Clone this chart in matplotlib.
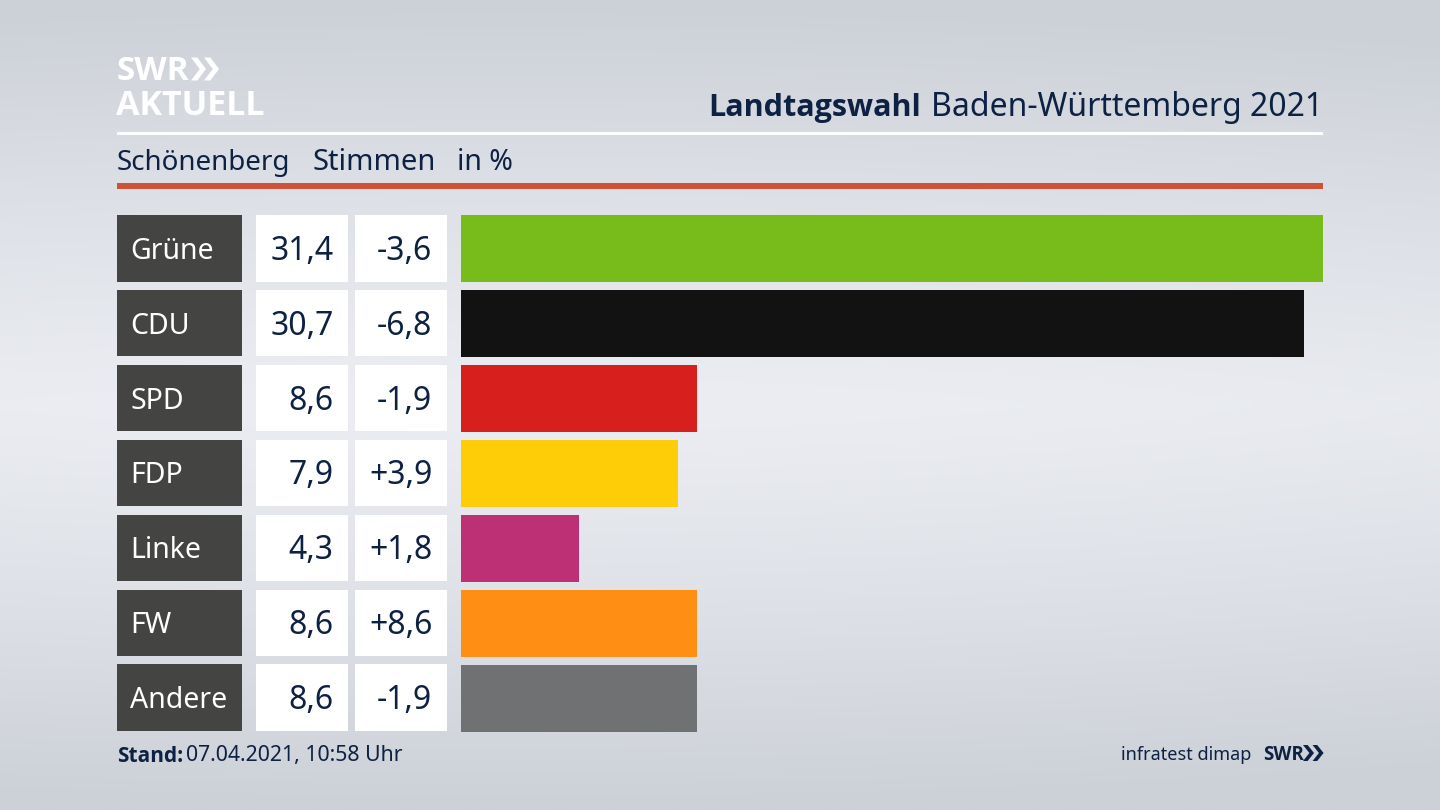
import numpy as np
from matplotlib import pyplot as plt
from matplotlib.patches import Rectangle, Polygon

plt.rcParams['font.family'] = ['Noto Sans', 'DejaVu Sans']
BOLD = ['Open Sans', 'DejaVu Sans']

parties = ['Grüne', 'CDU', 'SPD', 'FDP', 'Linke', 'FW', 'Andere']
shares = [31.4, 30.7, 8.6, 7.9, 4.3, 8.6, 8.6]
share_labels = ['31,4', '30,7', '8,6', '7,9', '4,3', '8,6', '8,6']
diff_labels = ['-3,6', '-6,8', '-1,9', '+3,9', '+1,8', '+8,6', '-1,9']
colors = ['#78bc1b', '#121212', '#d71f1d', '#ffcc08', '#bd3075', '#ff8e14', '#707172']

NAVY = '#0d2143'
W, H = 1440, 810

fig = plt.figure(figsize=(14.4, 8.1), dpi=100)

# page in pixel coordinates
page = fig.add_axes([0, 0, 1, 1])
page.set_xlim(0, W)
page.set_ylim(H, 0)
page.axis('off')

# background: light band in the middle, darker at top, bottom and right
yy, xx = np.mgrid[0:1:200j, 0:1:356j]
light = np.clip(1 - (np.abs(yy - 0.5) / 0.5) ** 1.25 - 0.25 * np.abs(xx - 0.35) ** 2, 0, 1)
bg = np.zeros(yy.shape + (3,))
for i, (lo, hi) in enumerate([(204, 235), (208, 237), (215, 242)]):
    bg[:, :, i] = (lo + (hi - lo) * light) / 255
page.imshow(bg, extent=[0, W, H, 0], aspect='auto', interpolation='bilinear', zorder=0)
page.set_xlim(0, W)
page.set_ylim(H, 0)

# logo
page.text(117, 72, 'SWR', color='white', fontsize=24, family=BOLD, fontweight='bold', va='center', ha='left')
page.text(116, 106, 'AKTUELL', color='white', fontsize=24.5, family=BOLD, fontweight='bold', va='center', ha='left')


def chevrons(x, y, w, h, color):
    # two arrow heads side by side, w is the width of one of them
    for dx in (0, w * 0.87):
        page.add_patch(Polygon([(x + dx, y - h), (x + dx + w * 0.42, y - h), (x + dx + w, y),
                                (x + dx + w * 0.42, y + h), (x + dx, y + h), (x + dx + w * 0.58, y)],
                               closed=True, fc=color, ec='none', zorder=3))


chevrons(191, 69, 15, 11.5, 'white')

# header
page.text(1323, 108, 'Baden-Württemberg 2021', color=NAVY, fontsize=23, ha='right', va='center')
page.text(921, 108, 'Landtagswahl', color=NAVY, fontsize=22, family=BOLD, fontweight='bold', ha='right', va='center')
page.add_patch(Rectangle((117, 132), 1206, 3, fc='white', ec='none', zorder=2))
page.text(117, 163, 'Schönenberg', color=NAVY, fontsize=20, va='center')
page.text(312, 163, 'Stimmen', color=NAVY, fontsize=21, va='center')
page.text(457, 163, 'in %', color=NAVY, fontsize=20.5, va='center')
page.add_patch(Rectangle((117, 183), 1206, 6, fc='#cf5138', ec='none', zorder=2))

# table cells
row_top = 215
row_step = 74.9
row_h = 66.5
for i in range(len(parties)):
    top = row_top + i * row_step
    mid = top + row_h / 2
    page.add_patch(Rectangle((117, top), 124.5, row_h, fc='#444442', ec='none', zorder=2))
    page.add_patch(Rectangle((256, top), 92, row_h, fc='white', ec='none', zorder=2))
    page.add_patch(Rectangle((355, top), 92, row_h, fc='white', ec='none', zorder=2))
    page.text(130, mid + 3, parties[i], color='white', fontsize=20.5, va='center', zorder=3)
    page.text(333.5, mid + 3, share_labels[i], color=NAVY, fontsize=23, ha='right', va='center', zorder=3)
    page.text(432.5, mid + 3, diff_labels[i], color=NAVY, fontsize=23, ha='right', va='center', zorder=3)

# bars
ax = fig.add_axes([461 / W, 1 - 731.5 / H, 862 / W, 516.5 / H])
ax.patch.set_alpha(0)
y = np.arange(len(parties))
ax.barh(y, shares, height=row_h / row_step, color=colors)
ax.set_xlim(0, 31.4)
ax.set_ylim(len(parties) - 1 + row_h / row_step / 2, -row_h / row_step / 2)
ax.axis('off')

# footer
page.text(117, 756, 'Stand:', color=NAVY, fontsize=15, family=BOLD, fontweight='bold', va='center')
page.text(186, 756, '07.04.2021, 10:58 Uhr', color=NAVY, fontsize=15.3, va='center')
page.text(1251, 755, 'infratest dimap', color=NAVY, fontsize=13, ha='right', va='center')
page.text(1263, 755, 'SWR', color=NAVY, fontsize=13.5, family=BOLD, fontweight='bold', va='center')
chevrons(1303, 753, 11, 8, NAVY)

fig.savefig('out.png', dpi=100)
